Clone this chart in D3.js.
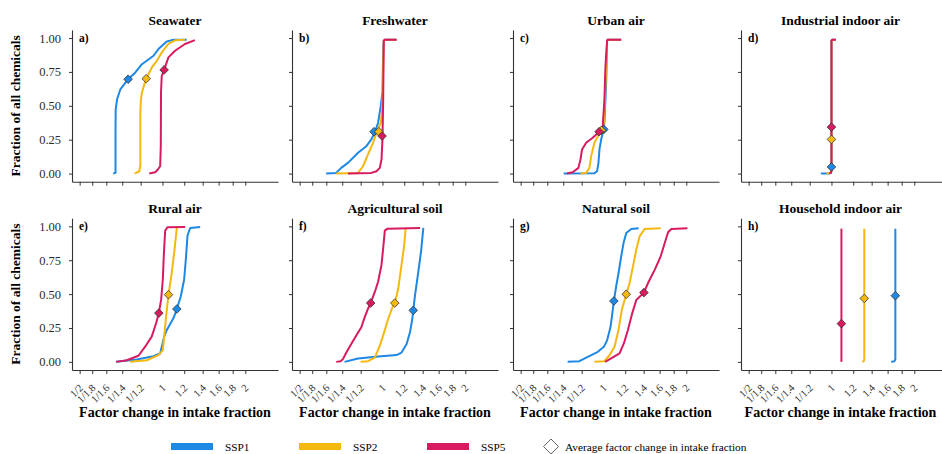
<!DOCTYPE html>
<html>
<head>
<meta charset="utf-8">
<script src="https://cdn.jsdelivr.net/npm/d3@7"></script>
<style>
  body { margin: 0; background: #fff; font-family: 'Liberation Serif', 'Times New Roman', Times, serif; }
  svg { display: block; }
  svg text { font-family: 'Liberation Serif', 'Times New Roman', Times, serif; }
</style>
</head>
<body>
<script>
'use strict';

// x ticks (factor change, log scale) and y ticks (fraction)
const xTicks = [1/2, 1/1.8, 1/1.6, 1/1.4, 1/1.2, 1, 1.2, 1.4, 1.6, 1.8, 2];
const xTickLabels = ['1/2', '1/1.8', '1/1.6', '1/1.4', '1/1.2', '1', '1.2', '1.4', '1.6', '1.8', '2'];
const yTicks = [0, 0.25, 0.5, 0.75, 1];

const scenarios = ['SSP1', 'SSP2', 'SSP5'];
const colors = ['#1E88E5', '#F5B80F', '#D81B60'];

const panelTitles = ['Seawater', 'Freshwater', 'Urban air', 'Industrial indoor air',
                     'Rural air', 'Agricultural soil', 'Natural soil', 'Household indoor air'];
const panelLetters = ['a)', 'b)', 'c)', 'd)', 'e)', 'f)', 'g)', 'h)'];

// cumulative curves: [factor change, fraction of chemicals]
const seawater = {
  SSP1: [[0.662,0],[0.675,0.005],[0.675,0.3],[0.676,0.474],[0.684,0.548],[0.703,0.622],[0.750,0.696],[0.797,0.746],[0.842,0.807],[0.928,0.869],[0.967,0.919],[1.036,0.975],[1.10,0.988],[1.224,0.988]],
  SSP2: [[0.792,0],[0.824,0.017],[0.831,0.06],[0.831,0.45],[0.835,0.548],[0.842,0.598],[0.866,0.68],[0.873,0.70],[0.915,0.783],[0.954,0.832],[0.994,0.894],[1.051,0.956],[1.111,0.983],[1.207,0.988]],
  SSP5: [[0.895,0],[0.941,0.01],[0.962,0.03],[0.981,0.054],[0.986,0.2],[0.988,0.6],[0.994,0.72],[1.014,0.765],[1.051,0.857],[1.111,0.906],[1.207,0.956],[1.312,0.985]]
};
const freshwater = {
  SSP1: [[0.624,0],[0.679,0.005],[0.708,0.042],[0.749,0.079],[0.815,0.153],[0.874,0.202],[0.911,0.252],[0.937,0.30],[0.964,0.375],[0.986,0.499],[1.0,0.6],[1.006,0.9],[1.011,0.98],[1.02,0.988],[1.125,0.988]],
  SSP2: [[0.679,0],[0.815,0.005],[0.850,0.054],[0.886,0.141],[0.924,0.227],[0.951,0.30],[0.986,0.375],[0.997,0.474],[1.003,0.6],[1.008,0.9],[1.011,0.98],[1.02,0.988],[1.125,0.988]],
  SSP5: [[0.749,0],[0.911,0.005],[0.951,0.017],[0.978,0.042],[0.992,0.104],[1.0,0.252],[1.006,0.548],[1.011,0.98],[1.02,0.988],[1.125,0.988]]
};
const urbanAir = {
  SSP1: [[0.717,0],[0.927,0.003],[0.948,0.017],[0.959,0.079],[0.967,0.178],[0.981,0.252],[1.0,0.321],[1.008,0.375],[1.023,0.672],[1.031,0.98],[1.037,0.988],[1.160,0.988]],
  SSP2: [[0.825,0],[0.865,0.005],[0.889,0.042],[0.902,0.128],[0.927,0.227],[0.962,0.289],[0.983,0.319],[0.994,0.338],[1.003,0.375],[1.015,0.6],[1.031,0.98],[1.037,0.988],[1.160,0.988]],
  SSP5: [[0.737,0],[0.773,0.01],[0.811,0.042],[0.825,0.104],[0.836,0.178],[0.865,0.227],[0.914,0.264],[0.954,0.30],[0.994,0.351],[1.008,0.548],[1.017,0.795],[1.031,0.98],[1.037,0.988],[1.160,0.988]]
};
const industrialIndoor = {
  SSP1: [[0.915,0],[0.973,0],[0.995,0.005],[1.0,0.02],[1.0,0.98],[1.005,0.988],[1.037,0.988]],
  SSP2: [[0.959,0],[0.986,0.005],[1.0,0.02],[1.0,0.98],[1.005,0.988],[1.037,0.988]],
  SSP5: [[0.981,0],[0.995,0.005],[1.0,0.02],[1.0,0.98],[1.005,0.988],[1.037,0.988]]
};
const ruralAir = {
  SSP1: [[0.678,0],[0.806,0.017],[0.927,0.042],[0.981,0.062],[1.014,0.186],[1.037,0.236],[1.097,0.323],[1.128,0.39],[1.166,0.484],[1.199,0.608],[1.219,0.782],[1.233,0.931],[1.261,0.988],[1.371,0.995]],
  SSP2: [[0.763,0],[0.877,0.012],[0.967,0.05],[1.003,0.087],[1.014,0.186],[1.031,0.335],[1.052,0.496],[1.081,0.658],[1.103,0.806],[1.128,0.99]],
  SSP5: [[0.678,0],[0.742,0.012],[0.818,0.045],[0.865,0.112],[0.914,0.186],[0.948,0.285],[0.970,0.36],[0.989,0.459],[1.003,0.608],[1.011,0.782],[1.023,0.968],[1.043,0.993],[1.209,0.995]]
};
const agriculturalSoil = {
  SSP1: [[0.728,0],[0.815,0.025],[0.964,0.04],[1.125,0.05],[1.173,0.069],[1.224,0.132],[1.259,0.218],[1.284,0.318],[1.294,0.38],[1.313,0.491],[1.350,0.665],[1.381,0.814],[1.408,0.988]],
  SSP2: [[0.833,0],[0.886,0.005],[0.938,0.032],[0.978,0.119],[1.014,0.218],[1.049,0.318],[1.088,0.404],[1.109,0.434],[1.141,0.541],[1.173,0.715],[1.200,0.864],[1.214,0.988]],
  SSP5: [[0.679,0],[0.704,0.005],[0.718,0.02],[0.739,0.069],[0.770,0.132],[0.803,0.194],[0.838,0.256],[0.862,0.33],[0.886,0.392],[0.906,0.434],[0.938,0.516],[0.964,0.591],[0.992,0.715],[1.006,0.839],[1.020,0.968],[1.043,0.983],[1.369,0.988]]
};
const naturalSoil = {
  SSP1: [[0.741,0],[0.817,0.005],[0.877,0.037],[0.954,0.074],[1.003,0.111],[1.031,0.16],[1.061,0.259],[1.081,0.383],[1.091,0.449],[1.112,0.556],[1.134,0.654],[1.160,0.778],[1.183,0.877],[1.210,0.951],[1.262,0.98],[1.342,0.985]],
  SSP2: [[0.927,0],[1.008,0.005],[1.052,0.049],[1.097,0.111],[1.134,0.235],[1.166,0.383],[1.210,0.499],[1.244,0.58],[1.280,0.704],[1.316,0.827],[1.353,0.926],[1.411,0.98],[1.614,0.985]],
  SSP5: [[1.014,0],[1.066,0.025],[1.144,0.062],[1.186,0.136],[1.227,0.235],[1.272,0.358],[1.316,0.457],[1.403,0.511],[1.451,0.58],[1.535,0.679],[1.614,0.778],[1.670,0.877],[1.717,0.956],[1.766,0.98],[2.020,0.985]]
};
const householdIndoor = {
  SSP1: [[1.647,0],[1.695,0.005],[1.707,0.02],[1.707,0.983]],
  SSP2: [[1.294,0],[1.31,0.005],[1.316,0.02],[1.316,0.983]],
  SSP5: [[1.087,0],[1.087,0.983]]
};

// average factor change per scenario: [factor, fraction]
const seawaterAvg = { SSP1: [0.750,0.696], SSP2: [0.873,0.70], SSP5: [1.014,0.765] };
const freshwaterAvg = { SSP1: [0.932,0.309], SSP2: [0.970,0.309], SSP5: [0.997,0.277] };
const urbanAirAvg = { SSP1: [1.003,0.326], SSP2: [0.983,0.319], SSP5: [0.964,0.309] };
const industrialIndoorAvg = { SSP1: [1,0.049], SSP2: [1,0.252], SSP5: [1,0.343] };
const ruralAirAvg = { SSP1: [1.128,0.39], SSP2: [1.052,0.496], SSP5: [0.970,0.36] };
const agriculturalSoilAvg = { SSP1: [1.294,0.38], SSP2: [1.109,0.434], SSP5: [0.906,0.434] };
const naturalSoilAvg = { SSP1: [1.091,0.449], SSP2: [1.210,0.499], SSP5: [1.403,0.511] };
const householdIndoorAvg = { SSP1: [1.707,0.488], SSP2: [1.316,0.468], SSP5: [1.087,0.282] };

const curves = [seawater, freshwater, urbanAir, industrialIndoor, ruralAir, agriculturalSoil, naturalSoil, householdIndoor];
const averages = [seawaterAvg, freshwaterAvg, urbanAirAvg, industrialIndoorAvg, ruralAirAvg, agriculturalSoilAvg, naturalSoilAvg, householdIndoorAvg];

// layout
let w = 942, h = 454;
let colLeft = [72, 292, 513, 741];
let rowBottom = [181.7, 370];
let panelW = 206, panelH = 151.8;
let serif = "'Liberation Serif', 'Times New Roman', Times, serif";

let svg = d3.select('body')
    .append('svg')
    .attr('width', w)
    .attr('height', h)
    .attr('font-family', serif);

let line = d3.line().curve(d3.curveLinear);
let diamond = (r) => `M0,${-r}L${r},0L0,${r}L${-r},0Z`;

panelTitles.forEach((title, i) => {
    let col = i % 4, row = Math.floor(i / 4);
    let left = colLeft[col], bottom = rowBottom[row], top = bottom - panelH;
    // last column is cut by the right edge of the figure
    let mid = left + Math.min(panelW, w - left - 2) / 2;

    let x = d3.scaleLog().domain([0.469, 2.63]).range([left, left + panelW]);
    let y = d3.scaleLinear().domain([-0.06, 1.06]).range([bottom, top]);

    let g = svg.append('g');

    // x axis
    let xAxis = d3.axisBottom(x)
        .tickValues(xTicks)
        .tickSize(4)
        .tickSizeOuter(0)
        .tickFormat((d, k) => row === 1 ? xTickLabels[k] : '');
    let gx = g.append('g')
        .attr('transform', `translate(0,${bottom})`)
        .call(xAxis);
    gx.selectAll('text')
        .attr('y', 0).attr('dy', 0)
        .attr('transform', 'translate(3.5,18.5) rotate(-45)')
        .attr('text-anchor', 'end')
        .attr('font-size', '10.5px');

    // y axis
    let yAxis = d3.axisLeft(y)
        .tickValues(yTicks)
        .tickSize(3)
        .tickPadding(8)
        .tickSizeOuter(0)
        .tickFormat(d => col === 0 ? d3.format('.2f')(d) : '');
    let gy = g.append('g')
        .attr('transform', `translate(${left},0)`)
        .call(yAxis);
    gy.selectAll('text').attr('font-size', '12.5px');

    [gx, gy].forEach(a => {
        a.attr('font-family', serif);
        a.select('.domain').attr('stroke', '#333').attr('stroke-width', 1.1);
        a.selectAll('.tick line').attr('stroke', '#333');
        a.selectAll('.tick text').attr('fill', '#2b2b2b');
    });

    // curves
    scenarios.forEach((s, k) => {
        g.append('path')
            .datum(curves[i][s])
            .attr('fill', 'none')
            .attr('stroke', colors[k])
            .attr('stroke-width', 2)
            .attr('stroke-linejoin', 'round')
            .attr('d', line.x(d => x(d[0])).y(d => y(d[1])));
    });

    // average markers
    scenarios.forEach((s, k) => {
        let p = averages[i][s];
        g.append('path')
            .attr('d', diamond(4.3))
            .attr('transform', `translate(${x(p[0])},${y(p[1])})`)
            .attr('fill', colors[k])
            .attr('stroke', '#333')
            .attr('stroke-width', 0.8);
    });

    // panel title and letter
    g.append('text')
        .text(title)
        .attr('x', mid)
        .attr('y', top - 5)
        .attr('text-anchor', 'middle')
        .attr('font-weight', 'bold')
        .attr('font-size', '13.5px');
    g.append('text')
        .text(panelLetters[i])
        .attr('x', left + 7)
        .attr('y', top + 12)
        .attr('font-weight', 'bold')
        .attr('font-size', '11.5px');

    if (col === 0) {
        g.append('text')
            .text('Fraction of all chemicals')
            .attr('transform', `translate(20,${(top + bottom) / 2}) rotate(-90)`)
            .attr('text-anchor', 'middle')
            .attr('font-weight', 'bold')
            .attr('font-size', '13.5px');
    }
    if (row === 1) {
        g.append('text')
            .text('Factor change in intake fraction')
            .attr('x', mid)
            .attr('y', 417)
            .attr('text-anchor', 'middle')
            .attr('font-weight', 'bold')
            .attr('font-size', '14px');
    }
});

// legend
let legend = svg.append('g').attr('font-size', '11.3px');
let legendX = [171, 299, 427];
scenarios.forEach((s, k) => {
    legend.append('rect')
        .attr('x', legendX[k]).attr('y', 443)
        .attr('width', 42).attr('height', 7)
        .attr('fill', colors[k]);
    legend.append('text')
        .text(s)
        .attr('x', legendX[k] + 54).attr('y', 450.5);
});
legend.append('path')
    .attr('d', diamond(7.5))
    .attr('transform', 'translate(551,446.5)')
    .attr('fill', '#fff')
    .attr('stroke', '#555')
    .attr('stroke-width', 0.9);
legend.append('text')
    .text('Average factor change in intake fraction')
    .attr('x', 565).attr('y', 450.5);
</script>
</body>
</html>
